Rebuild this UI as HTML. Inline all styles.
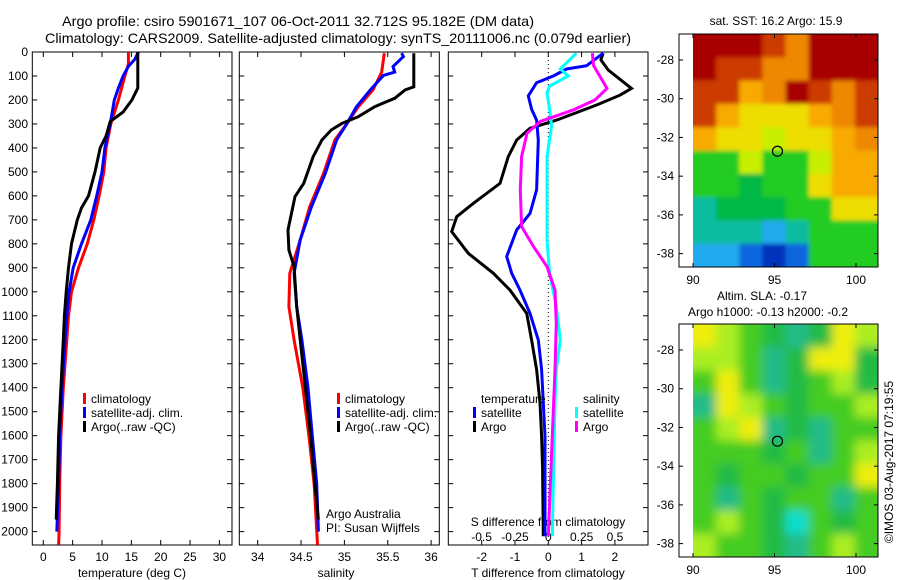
<!DOCTYPE html>
<html><head><meta charset="utf-8"><style>
body{margin:0;background:#fff;width:900px;height:580px;overflow:hidden}
svg{display:block;font-family:"Liberation Sans",sans-serif;font-size:12px}
</style></head><body>
<svg id="c" width="900" height="580" viewBox="0 0 900 580">
<defs>
<clipPath id="cp1"><rect x="32.3" y="52" width="199.7" height="493"/></clipPath>
<clipPath id="cp2"><rect x="239.3" y="52" width="200" height="493"/></clipPath>
<clipPath id="cp3"><rect x="448.3" y="52" width="199.7" height="493"/></clipPath>
<clipPath id="cpm1"><rect x="693" y="34" width="185" height="233"/></clipPath>
<clipPath id="cpm2"><rect x="693" y="324" width="185" height="233"/></clipPath>
<filter id="bl"><feGaussianBlur stdDeviation="5"/></filter>
<filter id="bl1"><feGaussianBlur stdDeviation="2"/></filter>
</defs>
<text x="62" y="26" textLength="472" lengthAdjust="spacingAndGlyphs" font-size="14">Argo profile: csiro 5901671_107 06-Oct-2011 32.712S 95.182E (DM data)</text>
<text x="45" y="43" textLength="586" lengthAdjust="spacingAndGlyphs" font-size="14">Climatology: CARS2009. Satellite-adjusted climatology: synTS_20111006.nc (0.079d earlier)</text>
<g id="g"></g>
</svg>
<script>
// ---- data ----
const tDepthClim=[0,50,100,200,300,400,500,600,700,800,900,1000,1100,1200,1400,1600,1800,2000,2055];
const tClim=[14.5,14.5,13.9,12.8,11.5,10.7,10.3,9.5,8.6,7.5,6.0,4.8,4.3,4.0,3.4,3.0,2.8,2.7,2.6];
const tDepthSat=[0,30,60,100,150,200,300,400,500,600,700,800,900,1000,1100,1200,1400,1600,1800,2000];
const tSat=[16.2,15.6,14.5,13.6,12.8,12.1,11.4,10.5,10.0,9.1,8.1,6.5,5.1,4.4,4.0,3.7,3.2,2.8,2.6,2.3];
const tDepthArgo=[0,150,200,250,290,350,400,500,600,650,700,800,900,1000,1100,1200,1400,1600,1800,1950];
const tArgo=[16.1,16.1,15.1,13.6,11.4,10.7,9.7,8.8,7.7,6.5,5.8,4.8,4.3,3.9,3.6,3.4,3.0,2.6,2.4,2.2];

const sDepthClim=[5,84,158,228,298,367,506,645,784,923,1062,1201,1400,1600,1800,2055];
const sClim=[35.46,35.43,35.33,35.16,35.03,34.89,34.76,34.60,34.49,34.37,34.36,34.42,34.52,34.59,34.65,34.69];
const sDepthSat=[5,19,61,84,98,158,228,298,367,506,645,784,923,1062,1201,1400,1600,1800,2000];
const sSat=[35.66,35.68,35.56,35.58,35.45,35.30,35.14,35.03,34.91,34.78,34.62,34.49,34.42,34.45,34.51,34.58,34.63,34.68,34.70];
const sDepthArgo=[5,145,158,193,228,270,298,325,367,436,548,603,742,826,895,1062,1201,1400,1600,1800,1950];
const sArgo=[35.80,35.80,35.70,35.58,35.35,35.16,34.97,34.85,34.74,34.64,34.53,34.43,34.35,34.36,34.42,34.45,34.49,34.55,34.61,34.66,34.70];

const dtDepthArgo=[5,33,75,152,180,221,284,318,367,436,548,631,687,749,840,923,993,1090,1201,1324,1463,1602,1741,2019];
const dtArgo=[1.65,1.58,1.8,2.5,2.15,1.45,0.25,-0.55,-0.95,-1.2,-1.45,-2.25,-2.75,-2.9,-2.4,-1.65,-1.15,-0.65,-0.5,-0.35,-0.25,-0.2,-0.17,-0.15];
const dtDepthSat=[5,57,71,100,128,183,239,284,367,575,673,742,853,923,993,1090,1201,1324,1602,2019];
const dtSat=[1.65,1.15,0.55,0.15,-0.35,-0.6,-0.5,-0.35,-0.3,-0.35,-0.55,-0.95,-1.25,-1.1,-0.85,-0.55,-0.3,-0.2,-0.1,-0.1];
const dsDepthSat=[5,33,71,100,142,170,239,308,436,784,923,1062,1201,1324,1463,1741,2019];
const dsSat=[0.21,0.16,0.09,0.15,0.01,-0.01,0.01,0.025,-0.01,-0.01,0.01,0.06,0.09,0.06,0.05,0.04,0.03];
const dsDepthArgo=[5,57,152,200,241,290,339,436,575,728,812,895,993,1132,1324,1602,2019];
const dsArgo=[0.33,0.34,0.44,0.35,0.19,-0.06,-0.16,-0.2,-0.21,-0.2,-0.11,-0.01,0.05,0.06,0.05,0.03,0.0];

const depthTicks=[0,100,200,300,400,500,600,700,800,900,1000,1100,1200,1300,1400,1500,1600,1700,1800,1900,2000];
const tTicks=[0,5,10,15,20,25,30];
const sTicks=[34,34.5,35,35.5,36];
const sTickLabels=["34","34.5","35","35.5","36"];
const dtTicks=[-2,-1,0,1,2];
const dtTickLabels=["-2","-1","0","1","2"];
const dsTicks=[-0.5,-0.25,0,0.25,0.5];
const dsTickLabels=["-0.5","-0.25","0","0.25","0.5"];
const latTicks=[-28,-30,-32,-34,-36,-38];
const lonTicks=[90,95,100];
const sstGrid=["DDDRODDD","DRROODDD","RRoODROR","RoYYYoOR","oYYyYYoO","GGyGGyoo","GGgGGYoo","TgggGGYY","TTTCTGGG","CCBNBGGG"];
const slaGrid=["YyGgTgYy","yyGTgYYg","GYGTgGyg","TYyGgGGy","GyYTgTGG","GGGgGTGy","GgGGgGGY","GTGgGGTG","GyGgcGgG","yGGgTGyG"];
const argoLon=95.182, argoLat=-32.712;

// ---- helpers ----
const NS="http://www.w3.org/2000/svg";
const G=document.getElementById('g');
function el(tag,attrs,parent){const e=document.createElementNS(NS,tag);for(const k in attrs)e.setAttribute(k,attrs[k]);(parent||G).appendChild(e);return e;}
function txt(x,y,s,anchor,parent,size){const e=el('text',{x:x,y:y,'text-anchor':anchor||'middle'},parent);if(size)e.setAttribute('font-size',size);e.textContent=s;return e;}
const Y=d=>52+d*0.2398;
const xT=v=>43.3+5.87*v;
const xS=v=>257.7+86.7*(v-34);
const xDT=v=>548.3+33.3*v;
const xDS=v=>548.3+133.3*v;

function panel(x0,x1,name){
  const r=el('rect',{x:x0,y:52,width:x1-x0,height:493,fill:'none',stroke:'#000'});
  
  
  depthTicks.forEach(d=>{el('line',{x1:x0,x2:x0+5,y1:Y(d),y2:Y(d),stroke:'#000'});el('line',{x1:x1,x2:x1-5,y1:Y(d),y2:Y(d),stroke:'#000'});});
}
function series(ds,vs,fx,color,clip,name){
  const pts=ds.map((d,i)=>fx(vs[i]).toFixed(1)+','+Y(d).toFixed(1)).join(' ');
  const p=el('polyline',{points:pts,fill:'none',stroke:color,'stroke-width':3,'stroke-linejoin':'miter','clip-path':'url(#'+clip+')'});
  
  
}
function xticks(ticks,labels,fx,y0){
  ticks.forEach((t,i)=>{const x=fx(t);el('line',{x1:x,x2:x,y1:545,y2:540,stroke:'#000'});el('line',{x1:x,x2:x,y1:52,y2:57,stroke:'#000'});
    const l=txt(x,y0,labels[i]);});
}
function legend(x,y,color,label){
  el('rect',{x:x,y:y-6,width:3,height:11,fill:color});
  const t=txt(x+8,y+4,label,'start');
  
  
}

// ---- panel 1: temperature ----
panel(32.3,232,'temperature-axes');
depthTicks.forEach(d=>{const l=txt(28,Y(d)+4,String(d),'end');});
xticks(tTicks,tTicks.map(String),xT,561);
const xt1=txt(132,577,'temperature (deg C)');


series(tDepthClim,tClim,xT,'#ff0000','cp1','temp-climatology-line');
series(tDepthSat,tSat,xT,'#0000ff','cp1','temp-satellite-line');
series(tDepthArgo,tArgo,xT,'#000000','cp1','temp-argo-line');
legend(83,399,'#ff0000','climatology');
legend(83,413,'#0000ff','satellite-adj. clim.');
legend(83,427,'#000','Argo(..raw -QC)');

// ---- panel 2: salinity ----
panel(239.3,439.3,'salinity-axes');
xticks(sTicks,sTickLabels,xS,561);
const xt2=txt(336,577,'salinity');


series(sDepthClim,sClim,xS,'#ff0000','cp2','sal-climatology-line');
series(sDepthSat,sSat,xS,'#0000ff','cp2','sal-satellite-line');
series(sDepthArgo,sArgo,xS,'#000000','cp2','sal-argo-line');
legend(337,399,'#ff0000','climatology');
legend(337,413,'#0000ff','satellite-adj. clim.');
legend(337,427,'#000','Argo(..raw -QC)');
txt(326,518,'Argo Australia','start');
txt(326,532,'PI: Susan Wijffels','start');

// ---- panel 3: differences ----
panel(448.3,648,'difference-axes');
el('line',{x1:xDT(0),x2:xDT(0),y1:52,y2:545,stroke:'#000','stroke-dasharray':'1,3'});
xticks(dtTicks,dtTickLabels,xDT,561);
dsTicks.forEach((t,i)=>{const l=txt(xDS(t),541,dsTickLabels[i]);});
txt(548,526,'S difference from climatology');
const xt3=txt(548,577,'T difference from climatology');


series(dtDepthArgo,dtArgo,xDT,'#000000','cp3','tdiff-argo-line');
series(dtDepthSat,dtSat,xDT,'#0000ff','cp3','tdiff-satellite-line');
series(dsDepthSat,dsSat,xDS,'#00ffff','cp3','sdiff-satellite-line');
series(dsDepthArgo,dsArgo,xDS,'#ff00ff','cp3','sdiff-argo-line');
txt(481,403,'temperature','start');
legend(473,413,'#0000ff','satellite');
legend(473,427,'#000','Argo');
txt(583,403,'salinity','start');
legend(575,413,'#00ffff','satellite');
legend(575,427,'#ff00ff','Argo');

// ---- maps ----
const mX=lon=>693+(lon-90)*16.3;
const mY=(lat,top)=>top+26+(-28-lat)*19.36;
const pal1={D:'#a80000',R:'#cc3a00',O:'#ee8800',o:'#f8aa00',Y:'#eedd00',y:'#c8ee00',G:'#22cc22',g:'#00b844',T:'#11bba0',C:'#22aaee',B:'#1166dd',N:'#0033bb'};
const pal2={Y:'#eeee11',y:'#aaee22',G:'#44cc22',g:'#22bb44',T:'#22bb88',c:'#11ddcc'};
function map(top,grid,pal,clip,blur,name,titles){
  const frame=el('g',{});
  
  
  el('rect',{x:679,y:top,width:199,height:233,fill:'#fff',stroke:'#000'},frame);
  const gg=el('g',{'clip-path':'url(#'+clip+')'},frame);
  const inner=el('g',{filter:blur?'url(#bl)':'url(#bl1)'},gg);
  const cw=185/8,ch=233/10;
  grid.forEach((row,r)=>{[...row].forEach((c,k)=>{el('rect',{x:693+k*cw-(k==0?8:0),y:top+r*ch-(r==0?8:0),width:cw+(k==0||k==7?8.5:0.5),height:ch+(r==0||r==9?8.5:0.5),fill:pal[c]},inner);});});
  el('rect',{x:679,y:top,width:199,height:233,fill:'none',stroke:'#000'},frame);
  latTicks.forEach(l=>{const y=mY(l,top);el('line',{x1:679,x2:683,y1:y,y2:y,stroke:'#000'},frame);el('line',{x1:878,x2:874,y1:y,y2:y,stroke:'#000'},frame);txt(674,y+4,String(l),'end',frame);});
  lonTicks.forEach(l=>{const x=mX(l);el('line',{x1:x,x2:x,y1:top+233,y2:top+229,stroke:'#000'},frame);el('line',{x1:x,x2:x,y1:top,y2:top+4,stroke:'#000'},frame);txt(x,top+250,String(l),'middle',frame);});
  const m=el('circle',{cx:mX(argoLon),cy:mY(argoLat,top),r:5,fill:'none',stroke:'#000','stroke-width':1.2},frame);
  
  
  titles.forEach(t=>txt(t[0],t[1],t[2],'middle',frame));
}
map(34,sstGrid,pal1,'cpm1',false,'sst-map',[[776,25,'sat. SST: 16.2 Argo: 15.9']]);
map(324,slaGrid,pal2,'cpm2',true,'sla-map',[[762,300,'Altim. SLA: -0.17'],[768,316,'Argo h1000: -0.13 h2000: -0.2']]);
const ts=el('text',{x:0,y:0,transform:'translate(893,462) rotate(-90)','text-anchor':'middle'});


ts.textContent='©IMOS 03-Aug-2017 07:19:55';
</script>
</body></html>
